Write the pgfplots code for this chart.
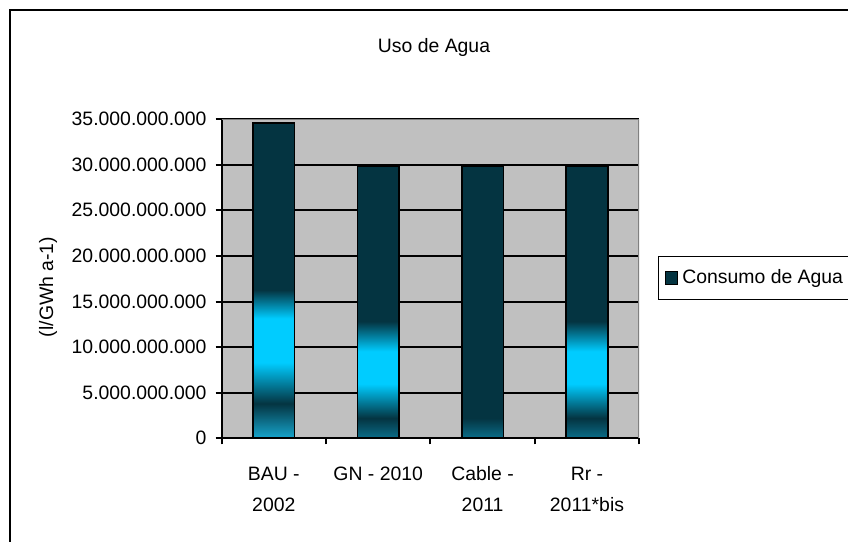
\documentclass[border=0pt]{standalone}
\usepackage{pgfplots}
\pgfplotsset{compat=1.18}
\usepackage{fontspec}
\setmainfont{Liberation Sans}

\definecolor{dk}{RGB}{4,52,65}
\definecolor{cy}{RGB}{0,204,255}
\definecolor{tlA}{RGB}{22,166,206}
\definecolor{tlB}{RGB}{10,110,138}
\definecolor{bggray}{RGB}{192,192,192}
\definecolor{edgegray}{RGB}{128,128,128}

% bar fills, bar spans 25bp (bottom) to 75bp (top)
\pgfdeclareverticalshading{barA}{100bp}{color(0bp)=(tlA); color(25bp)=(tlA); color(30.5bp)=(dk); color(37bp)=(cy); color(44bp)=(cy); color(48.5bp)=(dk); color(100bp)=(dk)}
\pgfdeclareverticalshading{barB}{100bp}{color(0bp)=(tlB); color(25bp)=(tlB); color(28.7bp)=(dk); color(35bp)=(cy); color(41bp)=(cy); color(46.5bp)=(dk); color(100bp)=(dk)}
\pgfdeclareverticalshading{barC}{100bp}{color(0bp)=(tlB); color(25bp)=(tlB); color(28.7bp)=(dk); color(100bp)=(dk)}

\newcommand{\fnt}{\fontsize{9.7}{15.5}\selectfont}

\begin{document}
\begin{tikzpicture}
\useasboundingbox (0,0) rectangle (424pt,271pt);
\draw[line width=1pt] (5pt,-20pt) rectangle (450pt,266pt);
\node[font=\fnt] at (217pt,247.5pt) {Uso de Agua};
\begin{axis}[
    at={(110.8pt,51.85pt)}, anchor=south west,
    scale only axis, width=208.8pt, height=159.6pt,
    xmin=-0.5, xmax=3.5, ymin=0, ymax=35000000000,
    axis x line*=bottom, axis y line*=left,
    axis line style={line width=1pt, black},
    axis background/.style={fill=bggray},
    ymajorgrids, major grid style={black, line width=1pt},
    xtick={0,1,2,3},
    xticklabels={\strut BAU -\\2002, \strut GN - 2010, \strut Cable -\\2011, \strut Rr -\\2011*bis},
    major x tick style={draw=none},
    minor xtick={-0.5,0.5,1.5,2.5,3.5},
    minor x tick style={black, line width=1pt},
    minor tick length=3pt,
    ytick={0,5000000000,10000000000,15000000000,20000000000,25000000000,30000000000,35000000000},
    yticklabels={0,5.000.000.000,10.000.000.000,15.000.000.000,20.000.000.000,25.000.000.000,30.000.000.000,35.000.000.000},
    scaled y ticks=false,
    major y tick style={black, line width=1pt},
    major tick length=3pt,
    tick align=outside,
    xticklabel style={font=\fnt, align=center, anchor=north, yshift=-3.6pt},
    yticklabel style={font=\fnt, xshift=-1pt},
    ylabel={(l/GWh a-1)},
    ylabel style={font=\fnt, at={(axis description cs:-0.4157,0.474)}, anchor=center},
    legend style={at={(1.045,0.571)}, anchor=north west, draw=black, line width=0.6pt,
      font=\fnt, inner xsep=3pt, inner ysep=4.5pt},
  ]
  \addplot[ybar, bar width=0.4, bar shift=0pt, draw=black, line width=0.8pt, shade, shading=barA, forget plot]
    coordinates {(0,34600000000)};
  \addplot[ybar, bar width=0.4, bar shift=0pt, draw=black, line width=0.8pt, shade, shading=barB, forget plot]
    coordinates {(1,29800000000)};
  \addplot[ybar, bar width=0.4, bar shift=0pt, draw=black, line width=0.8pt, shade, shading=barC, forget plot]
    coordinates {(2,29800000000)};
  \addplot[ybar, bar width=0.4, bar shift=0pt, draw=black, line width=0.8pt, shade, shading=barB, forget plot]
    coordinates {(3,29800000000)};
  \draw[edgegray, line width=1pt] (rel axis cs:0,1) -- (rel axis cs:1,1) -- (rel axis cs:1,0);
  \addlegendimage{legend image code/.code={\draw[fill=dk,draw=black,line width=0.5pt] (0pt,-3.2pt) rectangle (6.4pt,3.2pt);}}
  \addlegendentry{Consumo de Agua}
\end{axis}
\end{tikzpicture}
\end{document}
